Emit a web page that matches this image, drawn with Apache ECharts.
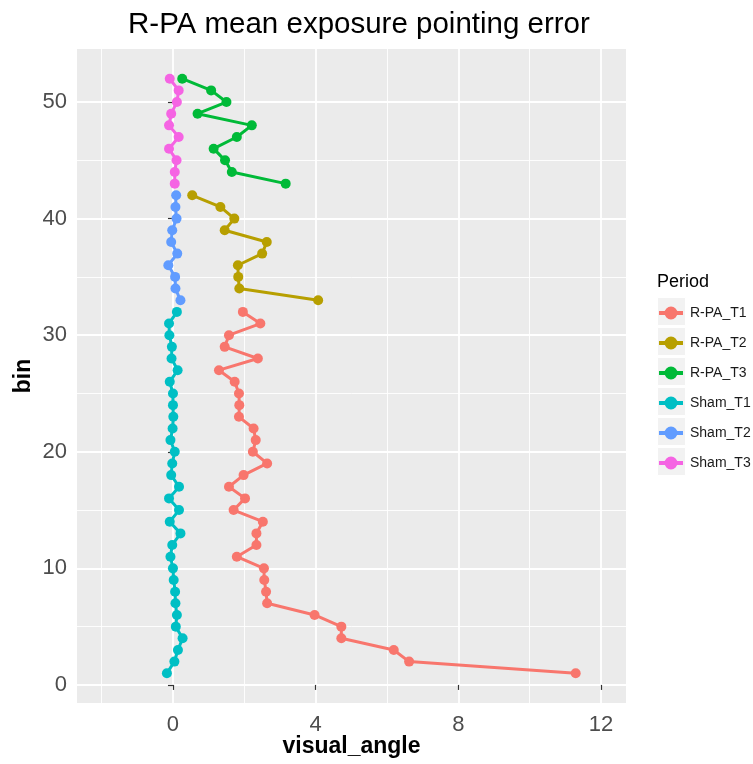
<!DOCTYPE html>
<html>
<head>
<meta charset="utf-8">
<script src="https://cdn.jsdelivr.net/npm/echarts@6/dist/echarts.min.js"></script>
<style>
html,body{margin:0;padding:0;background:#fff;}
#chart{width:753px;height:764px;}
</style>
</head>
<body>
<div id="chart"></div>
<script>
// ---- data ----
const periods = ['R-PA_T1','R-PA_T2','R-PA_T3','Sham_T1','Sham_T2','Sham_T3'];
const colors = ['#F8766D','#B79F00','#00BA38','#00BFC4','#619CFF','#F564E3'];

const binsT1 = [1,2,3,4,5,6,7,8,9,10,11,12,13,14,15,16,17,18,19,20,21,22,23,24,25,26,27,28,29,30,31,32];
const binsT2 = [33,34,35,36,37,38,39,40,41,42];
const binsT3 = [43,44,45,46,47,48,49,50,51,52];

const rpaT1 = [11.29,6.62,6.19,4.72,4.72,3.97,2.64,2.61,2.56,2.55,1.79,2.34,2.34,2.52,1.70,2.02,1.57,1.98,2.64,2.24,2.32,2.26,1.85,1.86,1.85,1.73,1.29,2.38,1.45,1.57,2.45,1.96];
const rpaT2 = [4.07,1.86,1.83,1.82,2.50,2.63,1.45,1.72,1.33,0.54];
const rpaT3 = [3.16,1.65,1.46,1.14,1.79,2.21,0.69,1.50,1.07,0.26];
const shamT1 = [-0.17,0.04,0.14,0.27,0.08,0.11,0.07,0.06,0.02,0.00,-0.07,-0.02,0.21,-0.09,0.17,-0.11,0.17,-0.05,-0.02,0.05,-0.07,-0.01,0.01,0.00,0.00,-0.09,0.13,-0.04,-0.03,-0.10,-0.11,0.11];
const shamT2 = [0.21,0.07,0.06,-0.13,0.12,-0.05,-0.02,0.10,0.07,0.09];
const shamT3 = [0.05,0.05,0.10,-0.11,0.16,-0.11,-0.05,0.11,0.16,-0.09];

const xTicks = [0,4,8,12];
const xMinor = [-2,2,6,10];
const yTicks = [0,10,20,30,40,50];
const yMinor = [5,15,25,35,45];

const seriesValues = [rpaT1, rpaT2, rpaT3, shamT1, shamT2, shamT3];
const seriesBins = [binsT1, binsT2, binsT3, binsT1, binsT2, binsT3];

// ---- chart ----
const chart = echarts.init(document.getElementById('chart'), null, {renderer:'canvas'});
const FONT = 'Liberation Sans, Arial, Helvetica, sans-serif';

const series = periods.map((p, i) => ({
  name: p,
  type: 'line',
  xAxisIndex: 0,
  yAxisIndex: 0,
  data: seriesValues[i].map((v, j) => [v, seriesBins[i][j]]),
  symbol: 'circle',
  symbolSize: 10,
  showSymbol: true,
  lineStyle: {width: 3, color: colors[i]},
  itemStyle: {color: colors[i]},
  emphasis: {disabled: true},
  animation: false,
  z: 3 + i
}));

// legend key: line plus filled dot (both sub-paths clockwise)
const legendIcon = 'path://M0,6 L24,6 L24,10 L0,10 Z M18.5,8 A6.5,6.5 0 1 1 5.5,8 A6.5,6.5 0 1 1 18.5,8 Z';

const keyRects = periods.map((p, i) => ({
  type: 'rect',
  left: 657,
  top: 297 + 30 * i,
  shape: {width: 28, height: 28},
  style: {fill: '#F2F2F2', stroke: '#FFFFFF', lineWidth: 1},
  z: -1,
  silent: true
}));

const option = {
  backgroundColor: '#FFFFFF',
  animation: false,
  title: [
    {
      text: 'R-PA mean exposure pointing error',
      left: 123,
      top: 5,
      textStyle: {fontFamily: FONT, fontSize: 29.5, fontWeight: 'normal', color: '#000'}
    },
    {
      text: 'Period',
      left: 652,
      top: 268,
      textStyle: {fontFamily: FONT, fontSize: 18, fontWeight: 'normal', color: '#000'}
    }
  ],
  grid: {
    left: 77, right: 127, top: 49, bottom: 61,
    outerBoundsMode: 'none',
    containLabel: false,
    show: true, backgroundColor: '#EBEBEB', borderWidth: 0
  },
  legend: {
    orient: 'vertical',
    left: 654,
    top: 300,
    itemWidth: 24,
    itemHeight: 16,
    itemGap: 14,
    symbolKeepAspect: true,
    icon: legendIcon,
    selectedMode: false,
    textStyle: {fontFamily: FONT, fontSize: 14, color: '#1A1A1A', lineHeight: 16, padding: [0,0,0,2]},
    data: periods
  },
  graphic: keyRects,
  xAxis: [
    {
      type: 'value',
      gridIndex: 0,
      min: -2.69, max: 12.70,
      position: 'bottom',
      name: 'visual_angle',
      nameLocation: 'middle',
      nameGap: 32,
      nameMoveOverlap: false,
      nameTextStyle: {fontFamily: FONT, fontSize: 23, fontWeight: 'bold', color: '#000'},
      axisLine: {show: false},
      axisTick: {show: true, customValues: xTicks, length: 5, lineStyle: {color: '#333333', width: 1.2}},
      axisLabel: {customValues: xTicks, fontFamily: FONT, fontSize: 22, color: '#4D4D4D', margin: 11},
      splitLine: {show: true, lineStyle: {color: '#FFFFFF', width: 1.8}},
      z: 2
    },
    {
      type: 'value',
      gridIndex: 0,
      min: -2.69, max: 12.70,
      position: 'top',
      axisLine: {show: false},
      axisTick: {show: false, customValues: xMinor},
      axisLabel: {show: false, customValues: xMinor},
      splitLine: {show: true, lineStyle: {color: '#FFFFFF', width: 0.9}},
      z: 1
    }
  ],
  yAxis: [
    {
      type: 'value',
      gridIndex: 0,
      min: -1.55, max: 54.55,
      position: 'left',
      name: 'bin',
      nameLocation: 'middle',
      nameGap: 42,
      nameMoveOverlap: false,
      nameRotate: 90,
      nameTextStyle: {fontFamily: FONT, fontSize: 23, fontWeight: 'bold', color: '#000'},
      axisLine: {show: false},
      axisTick: {show: true, customValues: yTicks, length: 5, lineStyle: {color: '#333333', width: 1.2}},
      axisLabel: {customValues: yTicks, fontFamily: FONT, fontSize: 22, color: '#4D4D4D', margin: 10},
      splitLine: {show: true, lineStyle: {color: '#FFFFFF', width: 1.8}},
      z: 2
    },
    {
      type: 'value',
      gridIndex: 0,
      min: -1.55, max: 54.55,
      position: 'right',
      axisLine: {show: false},
      axisTick: {show: false, customValues: yMinor},
      axisLabel: {show: false, customValues: yMinor},
      splitLine: {show: true, lineStyle: {color: '#FFFFFF', width: 0.9}},
      z: 1
    }
  ],
  series: series
};

chart.setOption(option);
</script>
</body>
</html>
